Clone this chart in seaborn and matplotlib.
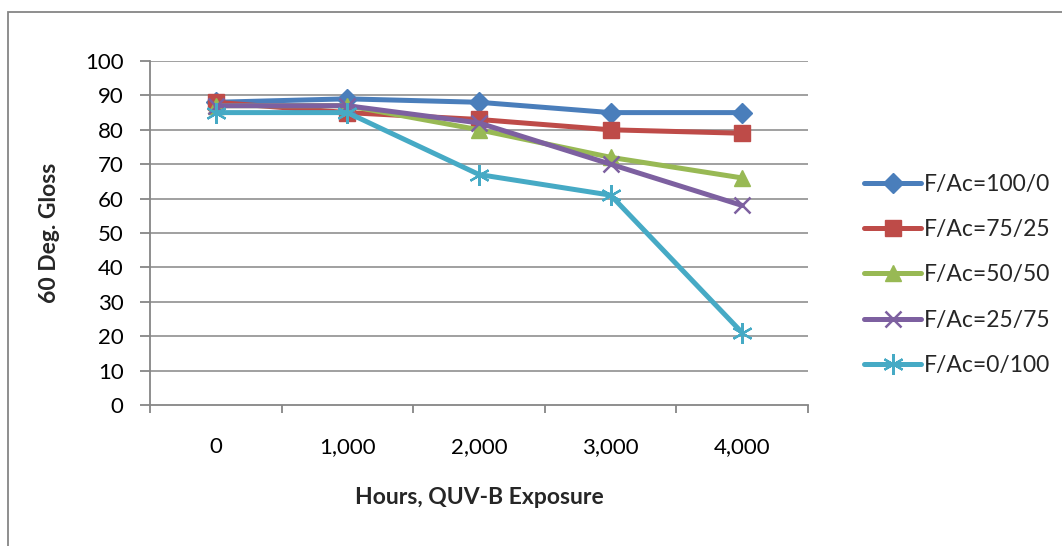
import matplotlib
matplotlib.use("Agg")
import matplotlib.pyplot as plt
from matplotlib.patches import Rectangle
import numpy as np
import pandas as pd
import seaborn as sns

# Exposure steps (category axis) and 60-degree gloss readings per blend
hours = ["0", "1,000", "2,000", "3,000", "4,000"]
series_names = ["F/Ac=100/0", "F/Ac=75/25", "F/Ac=50/50", "F/Ac=25/75", "F/Ac=0/100"]
gloss_100_0 = [88, 89, 88, 85, 85]
gloss_75_25 = [88, 85, 83, 80, 79]
gloss_50_50 = [87, 87, 80, 72, 66]
gloss_25_75 = [87, 87, 82, 70, 58]
gloss_0_100 = [85, 85, 67, 61, 21]
y_ticks = [0, 10, 20, 30, 40, 50, 60, 70, 80, 90, 100]

all_series = [gloss_100_0, gloss_75_25, gloss_50_50, gloss_25_75, gloss_0_100]

colors = ["#4A7EBB", "#BE4B48", "#98B954", "#7D60A0", "#46AAC5"]
markers = ["D", "s", "^", "x", (6, 2, 0)]
marker_sizes = [10, 11, 11, 12, 15]
marker_edges = [1.0, 1.0, 1.0, 1.8, 1.6]

sns.set_theme(style="white")
plt.rcParams["font.family"] = ["Lato", "DejaVu Sans"]

W, H = 1062, 546
fig = plt.figure(figsize=(W / 100, H / 100), dpi=100)
ax = fig.add_axes([150 / W, 1 - 405 / H, (808 - 150) / W, (405 - 61) / H])

# outer chart border
fig.patches.append(Rectangle((8 / W, -0.05), 1.2, 1 - 12 / H + 0.05,
                             transform=fig.transFigure, fill=False,
                             edgecolor="#868686", linewidth=1.3, zorder=0))

grid_col = "#868686"
for t in y_ticks[1:]:
    ax.axhline(t, color=grid_col, linewidth=1.1, zorder=0)

handles = []
for name, vals, c, mk, ms, mew in zip(series_names, all_series, colors,
                                      markers, marker_sizes, marker_edges):
    d = pd.DataFrame({"pos": np.arange(len(hours)), "gloss": vals})
    sns.lineplot(data=d, x="pos", y="gloss", color=c, marker=mk,
                 markersize=ms, markerfacecolor=c, markeredgecolor=c,
                 markeredgewidth=mew, linewidth=3.6, ax=ax, label=name,
                 legend=False)
    handles.append(ax.get_lines()[-1])

ax.set_xlim(-0.5, len(hours) - 0.5)
ax.set_ylim(0, 100)
ax.set_yticks(y_ticks)
ax.set_yticklabels([str(t) for t in y_ticks])
ax.set_xticks(range(len(hours)))
ax.set_xticklabels(hours)
ax.set_xticks(np.arange(-0.5, len(hours), 1.0), minor=True)

for s in ["top", "right"]:
    ax.spines[s].set_visible(False)
for s in ["left", "bottom"]:
    ax.spines[s].set_color(grid_col)
    ax.spines[s].set_linewidth(1.3)

ax.tick_params(axis="y", which="major", length=7, width=1.3, color=grid_col,
               direction="out", labelsize=16, pad=12, left=True)
ax.tick_params(axis="x", which="major", length=0, labelsize=16, pad=23, bottom=True)
ax.tick_params(axis="x", which="minor", length=6, width=1.3, color=grid_col,
               direction="out", bottom=True)
for lbl in ax.get_xticklabels() + ax.get_yticklabels():
    lbl.set_color("#000000")

ax.set_xlabel("Hours, QUV-B Exposure", fontsize=16.5, fontweight="bold", labelpad=22)
ax.set_ylabel("60 Deg. Gloss", fontsize=16.5, fontweight="bold", labelpad=18)

# legend built from the plotted lines
leg = fig.legend(handles, series_names, loc="center left",
                 bbox_to_anchor=(855 / W, 1 - 275 / H), frameon=False,
                 fontsize=16.5, handlelength=2.5, handletextpad=0.1,
                 labelspacing=1.05, borderaxespad=0)

fig.savefig("out.png", dpi=100, facecolor="white")
